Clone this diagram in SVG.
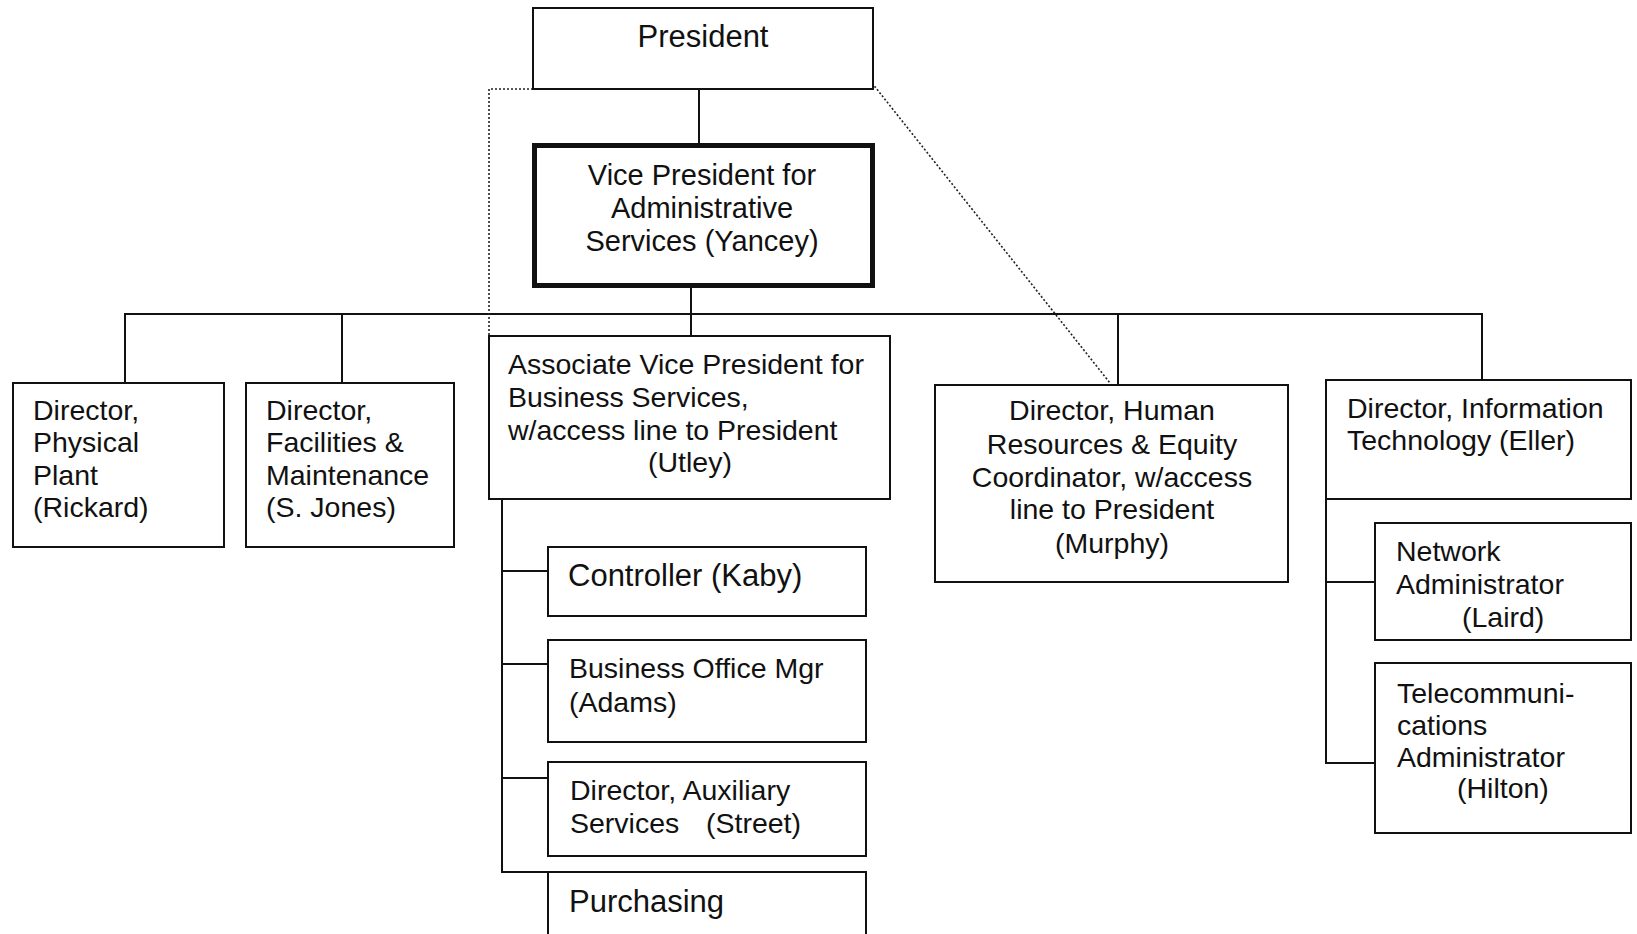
<svg xmlns="http://www.w3.org/2000/svg" width="1637" height="934" viewBox="0 0 1637 934">
<style>
.box{fill:#fff;stroke:#111;stroke-width:2}
.thick{fill:#fff;stroke:#111;stroke-width:5}
.ln{fill:none;stroke:#111;stroke-width:2}
.dot{fill:none;stroke:#222;stroke-width:1.6;stroke-dasharray:2 2}
text{font-family:"Liberation Sans",Arial,sans-serif;font-size:28.5px;fill:#111}
.big{font-size:31px}
.c{text-anchor:middle}
</style>
<rect width="1637" height="934" fill="#fff"/>
<g id="connectors">
<line class="ln" x1="699" y1="89" x2="699" y2="143"/>
<line class="ln" x1="691" y1="288" x2="691" y2="336"/>
<line class="ln" x1="124" y1="314" x2="1483" y2="314"/>
<line class="ln" x1="125" y1="314" x2="125" y2="383"/>
<line class="ln" x1="342" y1="314" x2="342" y2="383"/>
<line class="ln" x1="1118" y1="314" x2="1118" y2="385"/>
<line class="ln" x1="1482" y1="314" x2="1482" y2="380"/>
<polyline class="ln" points="502,499 502,872 548,872"/>
<line class="ln" x1="502" y1="571" x2="548" y2="571"/>
<line class="ln" x1="502" y1="664" x2="548" y2="664"/>
<line class="ln" x1="502" y1="778" x2="548" y2="778"/>
<polyline class="ln" points="1326,499 1326,763 1375,763"/>
<line class="ln" x1="1326" y1="582" x2="1375" y2="582"/>
<polyline class="dot" points="533,89 489,89 489,336"/>
<line class="dot" x1="872" y1="83" x2="1110" y2="383"/>
</g>
<g id="president">
<rect class="box" x="533" y="8" width="340" height="81"/>
<text class="big c" x="703" y="47">President</text>
</g>
<g id="vp">
<rect class="thick" x="534.5" y="145.5" width="338" height="140"/>
<text class="c" x="702" y="185" style="font-size:29px">Vice President for</text>
<text class="c" x="702" y="218" style="font-size:29px">Administrative</text>
<text class="c" x="702" y="251" style="font-size:29px">Services (Yancey)</text>
</g>
<g id="physical-plant">
<rect class="box" x="13" y="383" width="211" height="164"/>
<text x="33" y="420">Director,</text>
<text x="33" y="452">Physical</text>
<text x="33" y="485">Plant</text>
<text x="33" y="517">(Rickard)</text>
</g>
<g id="facilities">
<rect class="box" x="246" y="383" width="208" height="164"/>
<text x="266" y="420">Director,</text>
<text x="266" y="452">Facilities &amp;</text>
<text x="266" y="485">Maintenance</text>
<text x="266" y="517">(S. Jones)</text>
</g>
<g id="avp">
<rect class="box" x="489" y="336" width="401" height="163"/>
<text x="508" y="374">Associate Vice President for</text>
<text x="508" y="407">Business Services,</text>
<text x="508" y="440">w/access line to President</text>
<text x="648" y="472">(Utley)</text>
</g>
<g id="controller">
<rect class="box" x="548" y="547" width="318" height="69"/>
<text class="big" x="568" y="586">Controller (Kaby)</text>
</g>
<g id="business-office">
<rect class="box" x="548" y="640" width="318" height="102"/>
<text x="569" y="678">Business Office Mgr</text>
<text x="569" y="712">(Adams)</text>
</g>
<g id="auxiliary">
<rect class="box" x="548" y="762" width="318" height="94"/>
<text x="570" y="800">Director, Auxiliary</text>
<text x="570" y="833">Services</text>
<text x="706" y="833">(Street)</text>
</g>
<g id="purchasing">
<rect class="box" x="548" y="872" width="318" height="80"/>
<text class="big" x="569" y="912">Purchasing</text>
</g>
<g id="hr">
<rect class="box" x="935" y="385" width="353" height="197"/>
<text class="c" x="1112" y="420">Director, Human</text>
<text class="c" x="1112" y="454">Resources &amp; Equity</text>
<text class="c" x="1112" y="487">Coordinator, w/access</text>
<text class="c" x="1112" y="519">line to President</text>
<text class="c" x="1112" y="553">(Murphy)</text>
</g>
<g id="it">
<rect class="box" x="1326" y="380" width="305" height="119"/>
<text x="1347" y="418">Director, Information</text>
<text x="1347" y="450">Technology (Eller)</text>
</g>
<g id="network">
<rect class="box" x="1375" y="523" width="256" height="117"/>
<text x="1396" y="561">Network</text>
<text x="1396" y="594">Administrator</text>
<text x="1462" y="627">(Laird)</text>
</g>
<g id="telecom">
<rect class="box" x="1375" y="663" width="256" height="170"/>
<text x="1397" y="703">Telecommuni-</text>
<text x="1397" y="735">cations</text>
<text x="1397" y="767">Administrator</text>
<text x="1457" y="798">(Hilton)</text>
</g>
</svg>
